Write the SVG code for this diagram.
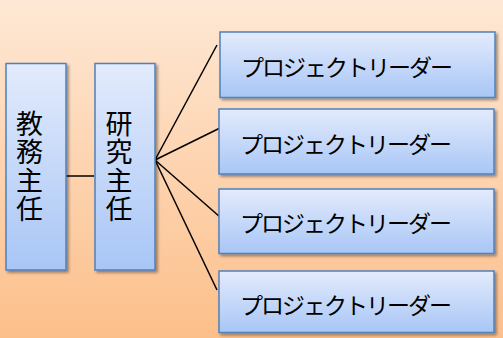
<svg xmlns="http://www.w3.org/2000/svg" width="503" height="338" viewBox="0 0 503 338">
<defs>
<linearGradient id="bg" x1="0" y1="0" x2="0" y2="1">
<stop offset="0" stop-color="#fee8d5"/>
<stop offset="1" stop-color="#fcbf8a"/>
</linearGradient>
<linearGradient id="box" x1="0" y1="0" x2="0" y2="1">
<stop offset="0" stop-color="#e3ebfc"/>
<stop offset="1" stop-color="#a8c6f6"/>
</linearGradient>
<filter id="sh" x="-10%" y="-10%" width="125%" height="125%">
<feGaussianBlur in="SourceAlpha" stdDeviation="1.5"/>
<feOffset dx="1.5" dy="2" result="b"/>
<feComponentTransfer><feFuncA type="linear" slope="0.4"/></feComponentTransfer>
<feMerge><feMergeNode/><feMergeNode in="SourceGraphic"/></feMerge>
</filter>
</defs>
<style>
.b{fill:url(#box);stroke:#4f81bd;stroke-width:1.5;filter:url(#sh)}
.t{font-family:"Noto Sans CJK JP","Noto Sans",sans-serif;fill:#000}
.p{font-size:23px;letter-spacing:-2px}
.v{font-size:27px;writing-mode:vertical-rl;letter-spacing:1.5px}
.c{stroke:#000;stroke-width:1.5;fill:none}
</style>
<rect width="503" height="338" fill="url(#bg)"/>
<g id="connectors">
<line class="c" x1="66" y1="176" x2="94" y2="176"/>
<line class="c" x1="155" y1="160" x2="217" y2="45"/>
<line class="c" x1="155" y1="160" x2="220" y2="128"/>
<line class="c" x1="155" y1="160" x2="220" y2="217"/>
<line class="c" x1="155" y1="160" x2="217" y2="290"/>
</g>
<g id="kyomu">
<rect class="b" x="6" y="63.5" width="60" height="206.5"/>
<text class="t v" x="29.5" y="110">教務主任</text>
</g>
<g id="kenkyu">
<rect class="b" x="95" y="63.5" width="60" height="206.5"/>
<text class="t v" x="119" y="110">研究主任</text>
</g>
<g id="pl1">
<rect class="b" x="220" y="32" width="275" height="65.5"/>
<text class="t p" x="241" y="76">プロジェクトリーダー</text>
</g>
<g id="pl2">
<rect class="b" x="219" y="109" width="275" height="65"/>
<text class="t p" x="240" y="153">プロジェクトリーダー</text>
</g>
<g id="pl3">
<rect class="b" x="219" y="189" width="275" height="64.5"/>
<text class="t p" x="240" y="232">プロジェクトリーダー</text>
</g>
<g id="pl4">
<rect class="b" x="219" y="271" width="275" height="61.5"/>
<text class="t p" x="240" y="314">プロジェクトリーダー</text>
</g>
</svg>
